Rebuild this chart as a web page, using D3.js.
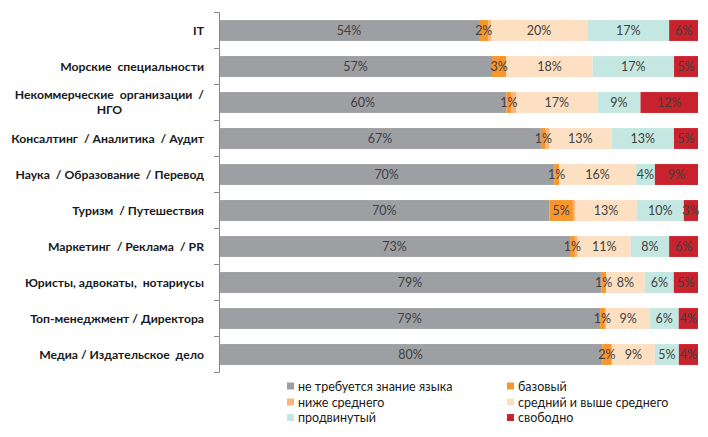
<!DOCTYPE html>
<html><head><meta charset="utf-8">
<script src="https://cdn.jsdelivr.net/npm/d3@7"></script>
<style>
body{margin:0;background:#fff;}
svg{display:block;}
</style></head>
<body>
<svg id="chart" width="708" height="437"></svg>
<script>
const categories = [
  ["IT"],
  ["Морские  специальности"],
  ["Некоммерческие  организации  /", "НГО"],
  ["Консалтинг  / Аналитика  / Аудит"],
  ["Наука  / Образование  / Перевод"],
  ["Туризм  / Путешествия"],
  ["Маркетинг  / Реклама  / PR"],
  ["Юристы, адвокаты,  нотариусы"],
  ["Топ-менеджмент / Директора"],
  ["Медиа / Издательское  дело"]
];
const seriesNames = ["не требуется знание языка","базовый","ниже среднего","средний и выше среднего","продвинутый","свободно"];
const noLanguage   = [54,57,60,67,70,70,73,79,79,80];
const basic        = [2,3,1,1,1,5,1,1,1,2];
const belowMiddle  = [0.5,0,1,0.7,0,0.5,0.6,0,0.3,0];
const middle       = [20,18,17,13,16,13,11,8,9,9];
const advanced     = [17,17,9,13,4,10,8,6,6,5];
const fluent       = [6,5,12,5,9,3,6,5,4,4];
const showLabel    = [true,true,false,true,true,true];
const colors = ["#9e9fa3","#f7962d","#f9b57c","#fddfc2","#c4e8e1","#c8222c"];

const seriesValues = [noLanguage,basic,belowMiddle,middle,advanced,fluent];
const rows = categories.map((c,i)=>{
  const o = {key:i};
  seriesValues.forEach((s,j)=>o["s"+j]=s[i]);
  return o;
});
const keys = seriesValues.map((_,j)=>"s"+j);
const stacked = d3.stack().keys(keys).offset(d3.stackOffsetExpand)(rows);

const FONT = "Lato, 'Open Sans', sans-serif";
const svg = d3.select("#chart");
const x = d3.scaleLinear().domain([0,1]).range([219,698]);
const y = d3.scaleBand().domain(d3.range(categories.length)).range([12.5,372.5]).paddingInner(0.42).paddingOuter(0.21);

const g = svg.append("g");
stacked.forEach((layer,j)=>{
  g.selectAll(null).data(layer).enter().append("rect")
    .attr("x",d=>x(d[0])).attr("width",d=>x(d[1])-x(d[0]))
    .attr("y",(d,i)=>y(i)).attr("height",y.bandwidth())
    .attr("fill",colors[j]);
});
stacked.forEach((layer,j)=>{
  if(showLabel[j]){
    g.selectAll(null).data(layer).enter().append("text")
      .attr("x",d=>(x(d[0])+x(d[1]))/2)
      .attr("y",(d,i)=>y(i)+y.bandwidth()/2)
      .attr("dy","0.36em")
      .attr("text-anchor","middle")
      .attr("font-family",FONT)
      .attr("font-size","12.5px")
      .attr("fill","#404040")
      .text((d,i)=>seriesValues[j][i]+"%");
  }
});

// axis
const step = y.step();
const axisG = svg.append("g");
axisG.append("line").attr("x1",219.5).attr("x2",219.5).attr("y1",12.5).attr("y2",372.5).attr("stroke","#888");
d3.range(categories.length+1).forEach(i=>{
  const yy = 12.5 + i*step;
  axisG.append("line").attr("x1",214).attr("x2",219.5).attr("y1",yy).attr("y2",yy).attr("stroke","#888");
});

// category labels
categories.forEach((lines,i)=>{
  const cy = y(i)+y.bandwidth()/2;
  const n = lines.length;
  const lh = 15;
  const t0 = svg.append("text")
    .attr("font-family",FONT)
    .attr("font-weight","bold").attr("font-size","12.2px").attr("fill","#1a1a1a")
    .style("white-space","pre")
    .attr("text-anchor","end").attr("x",204)
    .attr("y",cy - (n-1)*lh/2).attr("dy","0.36em").text(lines[0]);
  if(n>1){
    const w = t0.node().getComputedTextLength();
    for(let k=1;k<n;k++){
      svg.append("text")
        .attr("font-family",FONT)
        .attr("font-weight","bold").attr("font-size","12.2px").attr("fill","#1a1a1a")
        .attr("text-anchor","middle").attr("x",204-w/2)
        .attr("y",cy - (n-1)*lh/2 + k*lh).attr("dy","0.36em").text(lines[k]);
    }
  }
});

// legend
const legX = [287,507], legY = [386,402,417.5];
seriesNames.forEach((name,j)=>{
  const col = j%2, row = Math.floor(j/2);
  svg.append("rect").attr("x",legX[col]).attr("y",legY[row]-3.5).attr("width",7).attr("height",7).attr("fill",colors[j]);
  svg.append("text").attr("x",legX[col]+11).attr("y",legY[row]).attr("dy","0.36em")
    .attr("font-family",FONT).attr("font-size","12.5px").attr("fill","#1a1a1a")
    .text(name);
});
</script>
</body></html>
